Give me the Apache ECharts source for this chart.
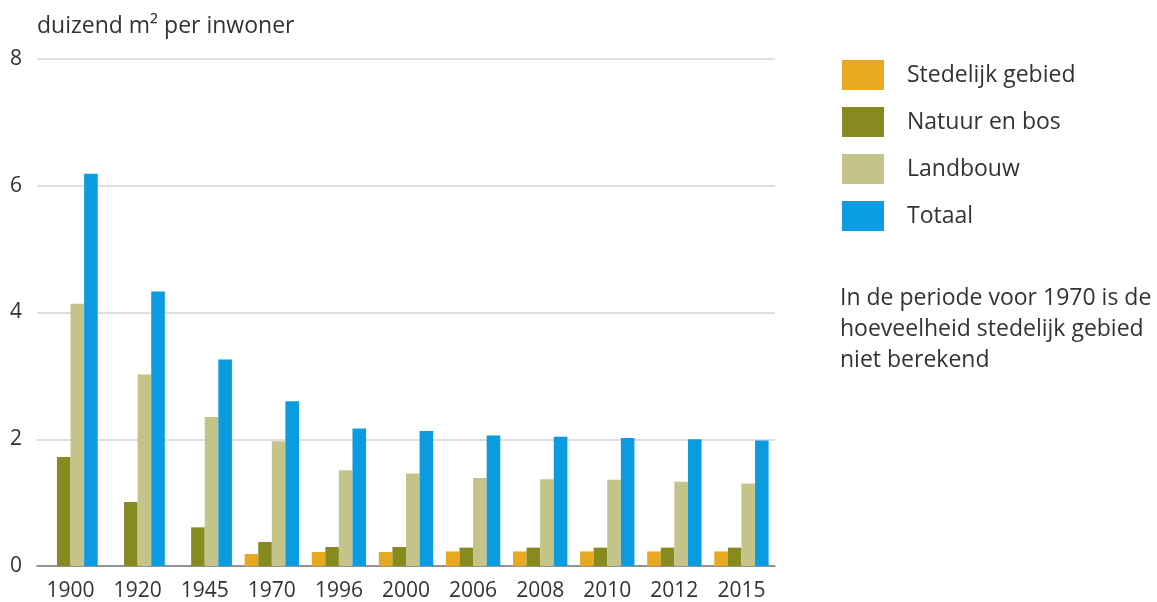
<!DOCTYPE html>
<html>
<head>
<meta charset="utf-8">
<script src="https://cdn.jsdelivr.net/npm/echarts@6/dist/echarts.min.js"></script>
<style>
  html, body { margin: 0; padding: 0; background: #fff; }
  #chart { width: 1157px; height: 602px; }
</style>
</head>
<body>
<div id="chart"></div>
<script>
var years = ['1900', '1920', '1945', '1970', '1996', '2000', '2006', '2008', '2010', '2012', '2015'];

// duizend m2 per inwoner
var stedelijk = [null, null, null, 0.19, 0.22, 0.22, 0.23, 0.23, 0.23, 0.23, 0.23];
var natuur    = [1.72, 1.01, 0.61, 0.38, 0.30, 0.30, 0.29, 0.29, 0.29, 0.29, 0.29];
var landbouw  = [4.14, 3.02, 2.35, 1.97, 1.51, 1.46, 1.39, 1.37, 1.36, 1.33, 1.30];
var totaal    = [6.19, 4.33, 3.26, 2.60, 2.17, 2.13, 2.06, 2.04, 2.02, 2.00, 1.98];

var seriesNames = ['Stedelijk gebied', 'Natuur en bos', 'Landbouw', 'Totaal'];
var colors = ['#e6a920', '#868a1f', '#c4c48a', '#0b9be0'];

var fontFam = '"Open Sans", "Noto Sans", sans-serif';
var textColor = '#333333';

var chart = echarts.init(document.getElementById('chart'));

function bar(name, data) {
    return {
        name: name,
        type: 'bar',
        data: data,
        barGap: '0%',
        barCategoryGap: '19%'
    };
}

var option = {
    color: colors,
    animation: false,
    textStyle: { fontFamily: fontFam, color: textColor },
    title: {
        text: 'duizend m² per inwoner',
        left: 32,
        top: 10,
        textStyle: { fontFamily: fontFam, fontSize: 23, fontWeight: 'normal', color: textColor }
    },
    legend: {
        orient: 'vertical',
        left: 837,
        top: 55,
        itemWidth: 42,
        itemHeight: 30,
        itemGap: 17,
        icon: 'rect',
        data: seriesNames,
        textStyle: {
            fontFamily: fontFam,
            fontSize: 23,
            lineHeight: 30,
            color: textColor,
            padding: [0, 0, 0, 18]
        }
    },
    grid: {
        left: 37,
        right: 382,
        top: 59,
        bottom: 35
    },
    xAxis: {
        type: 'category',
        data: years,
        axisTick: { show: false },
        axisLine: { lineStyle: { color: '#7a7a7a', width: 1.5 } },
        axisLabel: {
            fontFamily: fontFam,
            fontSize: 21,
            color: textColor,
            margin: 15
        }
    },
    yAxis: {
        type: 'value',
        min: 0,
        max: 8,
        interval: 2,
        axisLine: { show: false },
        axisTick: { show: false },
        axisLabel: {
            fontFamily: fontFam,
            fontSize: 21,
            color: textColor,
            margin: 15
        },
        splitLine: { lineStyle: { color: '#dedede', width: 2 } }
    },
    graphic: [{
        type: 'text',
        left: 840,
        top: 283,
        style: {
            text: 'In de periode voor 1970 is de\nhoeveelheid stedelijk gebied\nniet berekend',
            font: '23px ' + fontFam,
            fill: textColor,
            lineHeight: 31
        }
    }],
    series: [
        bar(seriesNames[0], stedelijk),
        bar(seriesNames[1], natuur),
        bar(seriesNames[2], landbouw),
        bar(seriesNames[3], totaal)
    ]
};

chart.setOption(option);
</script>
</body>
</html>
